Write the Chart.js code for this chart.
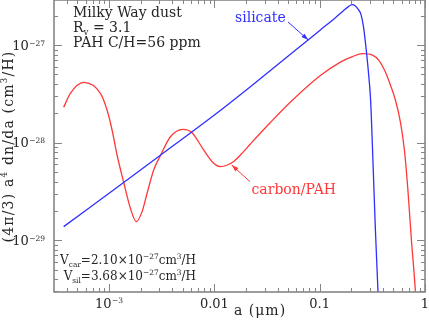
<!DOCTYPE html>
<html><head><meta charset="utf-8">
<script src="https://cdn.jsdelivr.net/npm/chart.js@4"></script>
<style>html,body{margin:0;padding:0;background:#fff;overflow:hidden}canvas{display:block}</style>
</head><body>
<canvas id="c" width="429" height="321"></canvas>
<script>
// grain radius a (micron) and (4pi/3) a^4 dn/da (cm^3/H)
const silA = [3.706e-4, 1.376e-3, 3.07e-3, 0.01, 0.02197, 0.0786, 0.1015, 0.1410, 0.1680, 0.1874, 0.2031, 0.2183, 0.2331, 0.2461, 0.2600, 0.2716, 0.2920, 0.3044, 0.3214, 0.3381, 0.3578, 0.3665];
const silV = [1.38e-29, 3.914e-29, 7.43e-29, 1.921e-28, 3.751e-28, 1.144e-27, 1.431e-27, 1.912e-27, 2.254e-27, 2.478e-27, 2.597e-27, 2.518e-27, 2.309e-27, 2.077e-27, 1.565e-27, 1.073e-27, 4.93e-28, 2.736e-28, 5.91e-29, 1.278e-29, 2.985e-30, 1.496e-30];
const carA = [3.706e-4, 4.29e-4, 5.74e-4, 8.27e-4, 9.57e-4, 1.068e-3, 1.191e-3, 1.376e-3, 1.593e-3, 1.816e-3, 2.058e-3, 2.296e-3, 2.652e-3, 3.07e-3, 3.821e-3, 5.044e-3, 6.14e-3, 7.91e-3, 9.85e-3, 0.0114, 0.01329, 0.01515, 0.01766, 0.02197, 0.03401, 0.05468, 0.1015, 0.1573, 0.2044, 0.2543, 0.3165, 0.3634, 0.4206, 0.4693, 0.5236, 0.5842, 0.6375, 0.6882, 0.7427, 0.8106, 0.8378];
const carV = [2.303e-28, 3.203e-28, 4.15e-28, 3.20e-28, 2.161e-28, 1.349e-28, 7.48e-29, 3.93e-29, 2.131e-29, 1.553e-29, 1.967e-29, 3.034e-29, 5.256e-29, 7.36e-29, 1.151e-28, 1.372e-28, 1.266e-28, 8.42e-29, 6.155e-29, 5.68e-29, 5.91e-29, 6.39e-29, 7.48e-29, 9.70e-29, 1.609e-28, 2.703e-28, 4.872e-28, 6.699e-28, 7.624e-28, 8.18e-28, 7.9e-28, 7.02e-28, 5.293e-28, 3.896e-28, 2.736e-28, 1.629e-28, 8.42e-29, 3.28e-29, 1.009e-29, 2.985e-30, 1.496e-30];
const xTickValues = [1e-3, 1e-2, 0.1, 1];
const xTickLabels = [['10', '\u22123'], ['0.01', ''], ['0.1', ''], ['1', '']];
const yTickValues = [1e-29, 1e-28, 1e-27];
const yTickLabels = [['10', '\u221229'], ['10', '\u221228'], ['10', '\u221227']];
const xMin = 3.03e-4, xMax = 1, yMin = 2.95e-30, yMax = 2.9e-27;

const FONT = '"DejaVu Serif", "Liberation Serif", serif';
const BLUE = '#2f2fff', RED = '#ff3838', INK = '#262626', AXIS = '#858585';

function drawRich(ctx, parts, x, y, size, align, color, spacing) {
  ctx.save();
  ctx.fillStyle = color;
  ctx.textBaseline = 'alphabetic';
  ctx.textAlign = 'left';
  ctx.letterSpacing = (spacing || 0) + 'px';
  const fs = p => p[1] === 'n' ? size : size * 0.62;
  let w = 0;
  const ws = parts.map(p => { ctx.font = fs(p) + 'px ' + FONT; const m = ctx.measureText(p[0]).width; w += m; return m; });
  let cx = align === 'right' ? x - w : (align === 'center' ? x - w / 2 : x);
  parts.forEach((p, i) => {
    ctx.font = fs(p) + 'px ' + FONT;
    const dy = p[1] === 'sub' ? size * 0.28 : (p[1] === 'sup' ? -size * 0.42 : 0);
    ctx.fillText(p[0], cx, y + dy);
    cx += ws[i];
  });
  ctx.restore();
}
// tick label: base text at 13px, small exponent top-aligned
function tickLabel(ctx, lab, x, baseY, align) {
  ctx.save();
  ctx.fillStyle = INK; ctx.textBaseline = 'alphabetic'; ctx.textAlign = 'left';
  ctx.font = '13px ' + FONT; const w1 = ctx.measureText(lab[0]).width;
  ctx.font = '7.5px ' + FONT; const w2 = lab[1] ? ctx.measureText(lab[1]).width + 0.5 : 0;
  const w = w1 + w2;
  const x0 = align === 'right' ? x - w : x - w / 2;
  ctx.font = '13px ' + FONT; ctx.fillText(lab[0], x0, baseY);
  if (lab[1]) { ctx.font = '7.5px ' + FONT; ctx.fillText(lab[1], x0 + w1 + 0.5, baseY - 9.5 + 5.4); }
  ctx.restore();
}
function arrow(ctx, x1, y1, x2, y2, color) {
  ctx.save();
  ctx.strokeStyle = color; ctx.fillStyle = color; ctx.lineWidth = 1;
  ctx.beginPath(); ctx.moveTo(x1, y1); ctx.lineTo(x2, y2); ctx.stroke();
  const ang = Math.atan2(y2 - y1, x2 - x1), L = 7, H = 2.3;
  ctx.beginPath();
  ctx.moveTo(x2, y2);
  ctx.lineTo(x2 - L * Math.cos(ang) + H * Math.sin(ang), y2 - L * Math.sin(ang) - H * Math.cos(ang));
  ctx.lineTo(x2 - L * Math.cos(ang) - H * Math.sin(ang), y2 - L * Math.sin(ang) + H * Math.cos(ang));
  ctx.closePath(); ctx.fill();
  ctx.restore();
}

const decor = {
  id: 'decor',
  afterDraw(chart) {
    const ctx = chart.ctx, a = chart.chartArea, sx = chart.scales.x, sy = chart.scales.y;
    ctx.save();
    ctx.strokeStyle = AXIS;
    ctx.lineWidth = 1;
    for (let k = -4; k <= 0; k++) for (let m = 1; m <= 9; m++) {
      const v = m * Math.pow(10, k);
      if (v < xMin || v > xMax) continue;
      const px = Math.round(sx.getPixelForValue(v)) + 0.5, L = m === 1 ? 8 : 4;
      ctx.beginPath(); ctx.moveTo(px, a.bottom); ctx.lineTo(px, a.bottom - L);
      ctx.moveTo(px, a.top); ctx.lineTo(px, a.top + L); ctx.stroke();
    }
    for (let k = -31; k <= -26; k++) for (let m = 1; m <= 9; m++) {
      const v = m * Math.pow(10, k);
      if (v < yMin || v > yMax) continue;
      const py = Math.round(sy.getPixelForValue(v)) + 0.5, L = m === 1 ? 8 : 4;
      ctx.beginPath(); ctx.moveTo(a.left, py); ctx.lineTo(a.left + L, py);
      ctx.moveTo(a.right, py); ctx.lineTo(a.right - L, py); ctx.stroke();
    }
    ctx.lineWidth = 1.6;
    ctx.strokeRect(a.left, a.top, a.right - a.left, a.bottom - a.top);
    ctx.restore();

    xTickValues.forEach((v, i) => tickLabel(ctx, xTickLabels[i], sx.getPixelForValue(v), 307.5, 'center'));
    yTickValues.forEach((v, i) => tickLabel(ctx, yTickLabels[i], 45, sy.getPixelForValue(v) + 4.7, 'right'));

    drawRich(ctx, [['Milky Way dust', 'n']], 73, 17, 14, 'left', INK);
    drawRich(ctx, [['R', 'n'], ['v', 'sub'], [' = 3.1', 'n']], 73, 31.5, 14, 'left', INK);
    drawRich(ctx, [['PAH C/H=56 ppm', 'n']], 73, 47, 14, 'left', INK);
    drawRich(ctx, [['silicate', 'n']], 235, 21.5, 14, 'left', BLUE);
    arrow(ctx, 288, 22, 308.3, 40, BLUE);
    drawRich(ctx, [['carbon/PAH', 'n']], 251.5, 193.5, 14, 'left', RED);
    arrow(ctx, 250, 181.7, 231.7, 165, RED);
    drawRich(ctx, [['V', 'n'], ['car', 'sub'], ['=2.10\u00D710', 'n'], ['\u221227', 'sup'], ['cm', 'n'], ['3', 'sup'], ['/H', 'n']], 196, 264, 12, 'right', INK);
    drawRich(ctx, [['V', 'n'], ['sil', 'sub'], ['=3.68\u00D710', 'n'], ['\u221227', 'sup'], ['cm', 'n'], ['3', 'sup'], ['/H', 'n']], 196, 280, 12, 'right', INK);
    drawRich(ctx, [['a (\u03BCm)', 'n']], 234, 315, 14, 'left', INK, 1);
    ctx.save();
    ctx.translate(8, 146.5);
    ctx.rotate(-Math.PI / 2);
    drawRich(ctx, [['(4\u03C0/3) a', 'n'], ['4', 'sup'], [' dn/da (cm', 'n'], ['3', 'sup'], ['/H)', 'n']], 0, 5, 14, 'center', INK, 1.2);
    ctx.restore();
  }
};

new Chart(document.getElementById('c'), {
  type: 'scatter',
  data: {
    datasets: [
      { data: silA.map((v, i) => ({ x: v, y: silV[i] })), borderColor: BLUE, showLine: true, pointRadius: 0, borderWidth: 1.3, cubicInterpolationMode: 'monotone', fill: false },
      { data: carA.map((v, i) => ({ x: v, y: carV[i] })), borderColor: RED, showLine: true, pointRadius: 0, borderWidth: 1.3, cubicInterpolationMode: 'monotone', fill: false }
    ]
  },
  options: {
    responsive: false, animation: false, devicePixelRatio: 1, events: [],
    layout: { padding: { top: 0, right: 4, left: 0, bottom: 0 } },
    plugins: { legend: { display: false }, tooltip: { enabled: false } },
    scales: {
      x: {
        type: 'logarithmic', position: 'bottom', min: xMin, max: xMax,
        afterBuildTicks: s => { s.ticks = xTickValues.map(v => ({ value: v })); },
        afterFit: s => { s.height = 29; s.paddingLeft = 0; s.paddingRight = 0; },
        ticks: { display: false },
        grid: { display: false, drawTicks: false }, border: { display: false }
      },
      y: {
        type: 'logarithmic', position: 'left', min: yMin, max: yMax,
        afterBuildTicks: s => { s.ticks = yTickValues.map(v => ({ value: v })); },
        afterFit: s => { s.width = 54; s.paddingTop = 0; s.paddingBottom = 0; },
        ticks: { display: false },
        grid: { display: false, drawTicks: false }, border: { display: false }
      }
    }
  },
  plugins: [decor]
});
</script>
</body></html>
